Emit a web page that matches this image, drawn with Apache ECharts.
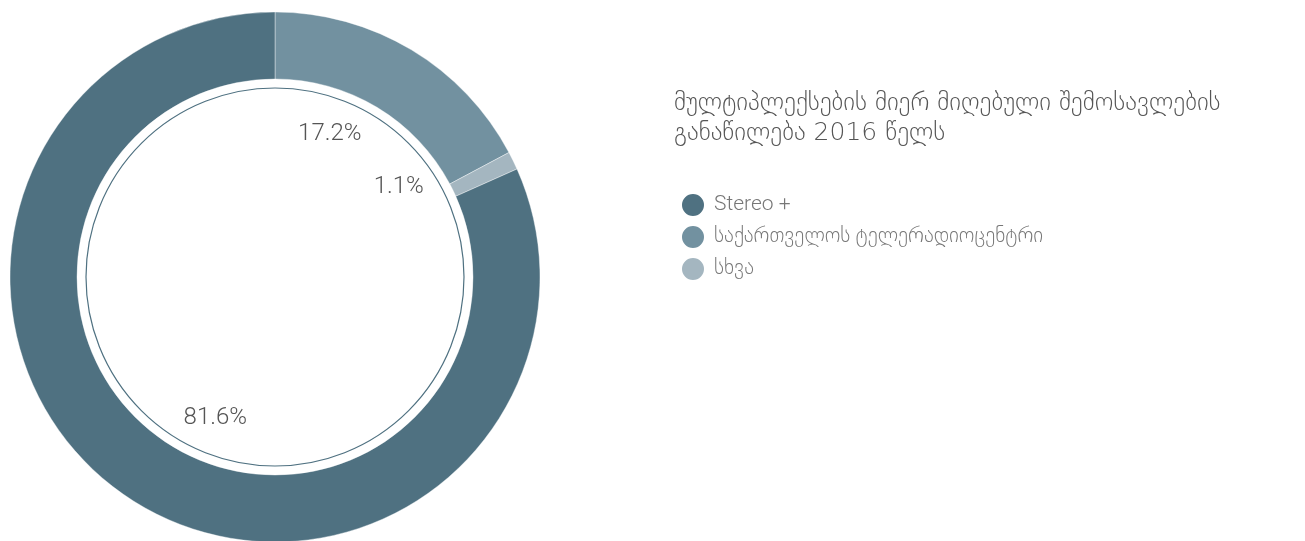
<!DOCTYPE html>
<html><head><meta charset="utf-8">
<script src="https://cdn.jsdelivr.net/npm/echarts@6/dist/echarts.min.js"></script>
<style>html,body{margin:0;padding:0;background:#fff}#c{width:1305px;height:541px}</style>
</head><body><div id="c"></div>
<script>
const titleText = 'მულტიპლექსების მიერ მიღებული შემოსავლების\nგანაწილება 2016 წელს';
const categories = ['საქართველოს ტელერადიოცენტრი', 'სხვა', 'Stereo +'];
const values = [17.2, 1.1, 81.6];
const legendOrder = ['Stereo +', 'საქართველოს ტელერადიოცენტრი', 'სხვა'];
const colors = ['#7291a0', '#a4b6c0', '#4f7181'];

const chart = echarts.init(document.getElementById('c'), null, {renderer: 'canvas'});
const pieData = categories.map((n, i) => ({name: n, value: values[i], itemStyle: {color: colors[i]}}));
chart.setOption({
  animation: false,
  color: colors,
  title: {
    text: titleText, left: 674, top: 88, padding: 0,
    textStyle: {fontFamily: 'DejaVu Sans', fontSize: 25, fontWeight: 300, color: '#555', lineHeight: 30}
  },
  legend: {
    data: legendOrder, orient: 'vertical', left: 680, top: 192, padding: 0,
    icon: 'circle', itemWidth: 24, itemHeight: 24, itemGap: 6,
    textStyle: {fontFamily: 'Roboto, DejaVu Sans', fontSize: 21, fontWeight: 300, color: '#777', padding: [0, 0, 0, 4]}
  },
  graphic: [{
    type: 'circle', shape: {cx: 275, cy: 277, r: 189}, silent: true,
    style: {fill: 'none', stroke: '#4f7181', lineWidth: 1.2}
  }],
  series: [{
    type: 'pie', center: [275, 277], radius: [198, 265], startAngle: 90, clockwise: true,
    label: {show: false}, labelLine: {show: false}, silent: true,
    itemStyle: {borderColor: '#fff', borderWidth: 0.4},
    data: pieData
  }, {
    type: 'pie', center: [275, 277], radius: [0, 300], startAngle: 100, clockwise: true,
    silent: true, legendHoverLink: false,
    itemStyle: {color: 'rgba(0,0,0,0)'},
    label: {show: true, position: 'inside', formatter: p => p.value + '%',
      fontFamily: 'Roboto', fontWeight: 300, fontSize: 24, color: '#555'},
    labelLine: {show: false},
    data: categories.map((n, i) => ({name: n + ' ', value: values[i]}))
  }]
});
</script></body></html>
